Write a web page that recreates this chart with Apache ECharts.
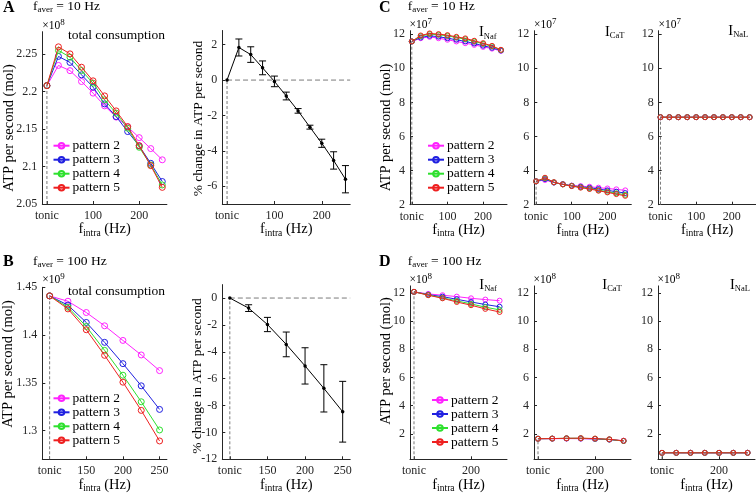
<!DOCTYPE html>
<html><head><meta charset="utf-8">
<script src="https://cdn.jsdelivr.net/npm/echarts@6/dist/echarts.min.js"></script>
<style>html,body{margin:0;padding:0;background:#fff}#c{width:756px;height:493px}</style>
</head><body><div id="c"></div>
<script>
// ---------------- DATA ----------------
const patternNames = ['pattern 2', 'pattern 3', 'pattern 4', 'pattern 5'];
// x positions: "tonic" is plotted at 0 (f_aver = 10 Hz) or 100 (f_aver = 100 Hz)
const xA = [0, 25, 50, 75, 100, 125, 150, 175, 200, 225, 250];
const xB = [100, 125, 150, 175, 200, 225, 250];
const tickXA = [0, 100, 200];
const tickXB = [100, 150, 200, 250];
const tickXC = [0, 100, 200];
const tickXD = [100, 200];

// A: total consumption, x1e8
const aP2 = [2.208, 2.235, 2.228, 2.2135, 2.198, 2.181, 2.166, 2.153, 2.1386, 2.124, 2.109];
const aP3 = [2.208, 2.247, 2.239, 2.2224, 2.206, 2.1836, 2.1667, 2.1467, 2.1275, 2.1043, 2.080];
const aP4 = [2.208, 2.255, 2.246, 2.2282, 2.2113, 2.189, 2.1712, 2.1512, 2.1257, 2.1021, 2.0754];
const aP5 = [2.208, 2.2598, 2.2504, 2.2326, 2.2144, 2.1943, 2.1743, 2.1533, 2.1279, 2.1012, 2.0722];
const aPct = [0, 1.84, 1.44, 0.69, -0.075, -0.9, -1.74, -2.66, -3.57, -4.54, -5.6];
const aErr = [0, 0.48, 0.44, 0.39, 0.3, 0.22, 0.13, 0.11, 0.23, 0.49, 0.77];
const tickYA1 = [2.05, 2.1, 2.15, 2.2, 2.25];
const tickYA2 = [-6, -4, -2, 0, 2];

// B: total consumption, x1e9
const bP2 = [1.441, 1.4354, 1.4236, 1.4097, 1.3944, 1.3792, 1.3628];
const bP3 = [1.441, 1.4313, 1.4132, 1.3924, 1.3701, 1.3469, 1.3222];
const bP4 = [1.441, 1.4292, 1.409, 1.384, 1.358, 1.3302, 1.3007];
const bP5 = [1.441, 1.4274, 1.4056, 1.3788, 1.3507, 1.3212, 1.2892];
const bPct = [0, -0.75, -1.97, -3.45, -5.05, -6.72, -8.46];
const bErr = [0, 0.25, 0.53, 0.92, 1.35, 1.76, 2.26];
const tickYB1 = [1.3, 1.35, 1.4, 1.45];
const tickYB2 = [-12, -10, -8, -6, -4, -2, 0];

// C: currents, x1e7
const cNafP2 = [11.57, 11.76, 11.84, 11.76, 11.67, 11.57, 11.47, 11.37, 11.25, 11.15, 11.02];
const cNafP3 = [11.57, 11.80, 11.90, 11.85, 11.76, 11.67, 11.57, 11.45, 11.32, 11.20, 11.04];
const cNafP4 = [11.57, 11.88, 12.00, 11.96, 11.90, 11.80, 11.70, 11.57, 11.43, 11.28, 11.06];
const cNafP5 = [11.57, 11.92, 12.04, 12.00, 11.94, 11.84, 11.75, 11.61, 11.47, 11.31, 11.08];
const cCaTP2 = [3.37, 3.45, 3.30, 3.20, 3.12, 3.09, 3.05, 3.00, 2.95, 2.90, 2.84];
const cCaTP3 = [3.37, 3.50, 3.30, 3.20, 3.11, 3.05, 2.99, 2.92, 2.84, 2.76, 2.68];
const cCaTP4 = [3.37, 3.55, 3.31, 3.19, 3.10, 3.02, 2.95, 2.85, 2.76, 2.67, 2.58];
const cCaTP5 = [3.37, 3.58, 3.32, 3.19, 3.09, 3.00, 2.92, 2.82, 2.72, 2.62, 2.52];
const cNaL = [7.13, 7.13, 7.13, 7.13, 7.13, 7.13, 7.13, 7.13, 7.13, 7.13, 7.13];

// D: currents, x1e8
const dNafP2 = [12.08, 11.93, 11.84, 11.74, 11.62, 11.53, 11.45];
const dNafP3 = [12.08, 11.88, 11.74, 11.55, 11.36, 11.18, 11.02];
const dNafP4 = [12.08, 11.86, 11.65, 11.44, 11.22, 10.99, 10.80];
const dNafP5 = [12.08, 11.84, 11.62, 11.36, 11.13, 10.87, 10.65];
const dCaTP2 = [1.66, 1.66, 1.67, 1.66, 1.64, 1.60, 1.52];
const dCaTP3 = [1.66, 1.67, 1.68, 1.68, 1.65, 1.60, 1.50];
const dCaTP4 = [1.66, 1.67, 1.69, 1.69, 1.66, 1.61, 1.50];
const dCaTP5 = [1.66, 1.67, 1.69, 1.70, 1.67, 1.62, 1.51];
const dNaL = [0.66, 0.66, 0.66, 0.66, 0.66, 0.66, 0.66];
const tickYCD = [2, 4, 6, 8, 10, 12];

// ---------------- STYLE / HELPERS ----------------
const FONT = 'Liberation Serif';
const AX = '#262626';
const COL = ['#ff22ff', '#2020e0', '#2ee02e', '#ee2020'];

const grids = [], xAxes = [], yAxes = [], series = [], graphics = [], legends = [];

function addGrid(left, top, width, height) {
  grids.push({ left, top, width, height, containLabel: false, outerBoundsMode: 'none' });
  return grids.length - 1;
}
const numFmt = v => String(+(+v).toFixed(2));
function addX(gi, min, max, ticks, tonic) {
  xAxes.push({
    type: 'value', gridIndex: gi, min, max,
    axisLine: { show: true, onZero: false, lineStyle: { color: AX, width: 1 } },
    axisTick: { show: true, inside: true, length: 3, customValues: ticks, lineStyle: { color: AX } },
    axisLabel: { customValues: ticks, margin: 6, color: AX, fontFamily: FONT, fontSize: 12,
      formatter: v => (v === tonic ? 'tonic' : numFmt(v)) },
    splitLine: { show: false },
    name: '{n|f}{s|intra}{n| (Hz)}', nameLocation: 'middle', nameGap: 18, nameMoveOverlap: false,
    nameTextStyle: { color: '#000', fontFamily: FONT, fontSize: 14.5, verticalAlign: 'top',
      rich: { n: { fontFamily: FONT, fontSize: 14.5, verticalAlign: 'top', color: '#000' },
              s: { fontFamily: FONT, fontSize: 9.5, verticalAlign: 'top', color: '#000', padding: [6, 0, 0, 0] } } }
  });
}
function addY(gi, min, max, ticks) {
  yAxes.push({
    type: 'value', gridIndex: gi, min, max,
    axisLine: { show: true, onZero: false, lineStyle: { color: AX, width: 1 } },
    axisTick: { show: true, inside: true, length: 3, customValues: ticks, lineStyle: { color: AX } },
    axisLabel: { customValues: ticks, margin: 5, color: AX, fontFamily: FONT, fontSize: 12, formatter: numFmt },
    splitLine: { show: false }
  });
}
function dashed(gi, pts, dash) {
  series.push({ type: 'line', xAxisIndex: gi, yAxisIndex: gi, data: pts, symbol: 'none', silent: true,
    lineStyle: { color: '#7a7a7a', width: 1, type: dash }, z: 1, animation: false });
}
function patterns(gi, xs, arrs, size) {
  arrs.forEach((arr, k) => {
    series.push({ type: 'line', name: patternNames[k], xAxisIndex: gi, yAxisIndex: gi,
      data: xs.map((x, i) => [x, arr[i]]), symbol: 'circle', symbolSize: size, showSymbol: true,
      lineStyle: { color: COL[k], width: 1 },
      itemStyle: { color: 'rgba(255,255,255,0)', borderColor: COL[k], borderWidth: 1 },
      emphasis: { disabled: true }, z: 2 + k, animation: false });
  });
}
function pctSeries(gi, xs, ys, es) {
  series.push({ type: 'custom', xAxisIndex: gi, yAxisIndex: gi, silent: true, z: 3, animation: false,
    data: xs.map((x, i) => [x, ys[i], es[i]]), encode: { x: 0, y: 1 },
    renderItem: (p, api) => {
      const x = api.value(0), y = api.value(1), e = api.value(2);
      if (!e) return { type: 'group', children: [] };
      const t = api.coord([x, y + e]), b = api.coord([x, y - e]), w = 3.5;
      const st = { stroke: '#000', lineWidth: 1 };
      return { type: 'group', children: [
        { type: 'line', shape: { x1: t[0], y1: t[1], x2: b[0], y2: b[1] }, style: st },
        { type: 'line', shape: { x1: t[0] - w, y1: t[1], x2: t[0] + w, y2: t[1] }, style: st },
        { type: 'line', shape: { x1: b[0] - w, y1: b[1], x2: b[0] + w, y2: b[1] }, style: st }] };
    } });
  series.push({ type: 'line', xAxisIndex: gi, yAxisIndex: gi, data: xs.map((x, i) => [x, ys[i]]),
    symbol: 'circle', symbolSize: 3.5, lineStyle: { color: '#000', width: 1 }, itemStyle: { color: '#000' },
    silent: true, z: 4, animation: false });
}
function legendAt(left, top) {
  legends.push({ data: patternNames, orient: 'vertical', left, top, padding: 0, itemGap: 0,
    itemWidth: 16, itemHeight: 7, selectedMode: false,
    textStyle: { fontFamily: FONT, fontSize: 13.5, lineHeight: 14, color: '#000', padding: [0, 0, 0, -2] } });
}
// text with subscript / superscript parts: parts = [[text, 'n'|'s'], ...]
// shift > 0: subscript lowered by shift px; shift < 0: superscript raised
function txt(x, yc, parts, main, sub, shift, bold) {
  const base = (main - sub) / 2;
  const nPad = shift < 0 ? Math.max(0, -shift - base) : 0;
  const sPad = shift > 0 ? base + shift : Math.max(0, base + shift + nPad);
  graphics.push({ type: 'text', x, y: yc - main / 2 - nPad, silent: true,
    style: { text: parts.map(p => '{' + p[1] + '|' + p[0] + '}').join(''), align: 'left', verticalAlign: 'top',
      rich: { n: { fontFamily: FONT, fontSize: main, verticalAlign: 'top', fill: '#000', padding: [nPad, 0, 0, 0], fontWeight: bold ? 'bold' : 'normal' },
              s: { fontFamily: FONT, fontSize: sub, verticalAlign: 'top', fill: '#000', padding: [sPad, 0, 0, 0] } } } });
}
// rotated y-axis label, centred at (xc, yc)
function ylabel(xc, yc, text, size) {
  graphics.push({ type: 'text', x: xc, y: yc, rotation: Math.PI / 2, silent: true,
    style: { text, fontFamily: FONT, fontSize: size, fill: '#000', align: 'center', verticalAlign: 'middle' } });
}
const ylab = 'ATP per second (mol)';
const ylabPct = '% change in ATP per second';

// ---------------- PANEL A ----------------
let g = addGrid(42.3, 31.7, 124.6, 172.3);
addX(g, -10, 260, tickXA, 0); addY(g, 2.05, 2.28, tickYA1);
dashed(g, [[xA[0], 2.05], [xA[0], aP2[0]]], [3, 2]);
patterns(g, xA, [aP2, aP3, aP4, aP5], 6);
legendAt(52.5, 138.7);

g = addGrid(222.3, 30.5, 127.9, 173.5);
addX(g, -10, 260, tickXA, 0); addY(g, -7, 2.8, tickYA2);
dashed(g, [[xA[0], -7], [xA[0], aPct[0]]], [3, 2]);
dashed(g, [[xA[0], 0], [260, 0]], [5, 3]);
pctSeries(g, xA, aPct, aErr);

// ---------------- PANEL B ----------------
g = addGrid(42.3, 287.3, 124.6, 172);
addX(g, 90, 260, tickXB, 100); addY(g, 1.27, 1.45, tickYB1);
dashed(g, [[xB[0], 1.27], [xB[0], bP2[0]]], [3, 2]);
patterns(g, xB, [bP2, bP3, bP4, bP5], 6);
legendAt(52.5, 391.3);

g = addGrid(222.3, 284.6, 127.9, 174.7);
addX(g, 90, 260, tickXB, 100); addY(g, -12, 1, tickYB2);
dashed(g, [[xB[0], -12], [xB[0], bPct[0]]], [3, 2]);
dashed(g, [[xB[0], 0], [260, 0]], [5, 3]);
pctSeries(g, xB, bPct, bErr);

// ---------------- PANEL C ----------------
const cLefts = [410, 534.3, 658.7];
const cData = [[cNafP2, cNafP3, cNafP4, cNafP5], [cCaTP2, cCaTP3, cCaTP4, cCaTP5], [cNaL, cNaL, cNaL, cNaL]];
cLefts.forEach((l, j) => {
  const gi = addGrid(l, 30.7, 97, 174);
  addX(gi, -5, 267, tickXC, 0); addY(gi, 2, 12.2, tickYCD);
  dashed(gi, [[xA[0], 2], [xA[0], cData[j][0][0]]], [3, 2]);
  patterns(gi, xA, cData[j], 5);
});
legendAt(427, 138.7);

// ---------------- PANEL D ----------------
const dLefts = [410, 534, 658];
const dData = [[dNafP2, dNafP3, dNafP4, dNafP5], [dCaTP2, dCaTP3, dCaTP4, dCaTP5], [dNaL, dNaL, dNaL, dNaL]];
dLefts.forEach((l, j) => {
  const gi = addGrid(l, 285.9, 97, 173.4);
  addX(gi, 93, 263, tickXD, 100); addY(gi, 0.2, 12.5, tickYCD);
  dashed(gi, [[xB[0], 0.2], [xB[0], dData[j][0][0]]], [3, 2]);
  patterns(gi, xB, dData[j], 5);
});
legendAt(431, 393);

// ---------------- TEXT ----------------
ylabel(9, 128, ylab, 14.5);
ylabel(198, 118.5, ylabPct, 13.5);
ylabel(8.5, 364, ylab, 14.5);
ylabel(197, 376, ylabPct, 13.5);
ylabel(386, 127.5, ylab, 14.5);
ylabel(386, 361, ylab, 14.5);

txt(3, 7.5, [['A', 'n']], 16, 10, 0, true);
txt(33, 6.5, [['f', 'n'], ['aver', 's'], [' = 10 Hz', 'n']], 13.5, 9, 3.5);
txt(3, 261.5, [['B', 'n']], 16, 10, 0, true);
txt(33, 261, [['f', 'n'], ['aver', 's'], [' = 100 Hz', 'n']], 13.5, 9, 3.5);
txt(379, 7.5, [['C', 'n']], 16, 10, 0, true);
txt(407.7, 6.5, [['f', 'n'], ['aver', 's'], [' = 10 Hz', 'n']], 13.5, 9, 3.5);
txt(379, 261.5, [['D', 'n']], 16, 10, 0, true);
txt(407.7, 261, [['f', 'n'], ['aver', 's'], [' = 100 Hz', 'n']], 13.5, 9, 3.5);

txt(68, 35, [['total consumption', 'n']], 13.5, 9, 0);
txt(68, 291.7, [['total consumption', 'n']], 13.5, 9, 0);

txt(42.3, 25.5, [['\u00d710', 'n'], ['8', 's']], 11.5, 9, -3);
txt(42.3, 280, [['\u00d710', 'n'], ['9', 's']], 11.5, 9, -3);
[409.5, 534, 658.5].forEach(x => txt(x, 25, [['\u00d710', 'n'], ['7', 's']], 11.5, 9, -3));
[409.5, 533.5, 657.5].forEach(x => txt(x, 280, [['\u00d710', 'n'], ['8', 's']], 11.5, 9, -3));

txt(479, 32.3, [['I', 'n'], ['Naf', 's']], 14.5, 8.5, 4);
txt(605, 31.7, [['I', 'n'], ['CaT', 's']], 14.5, 8.5, 4);
txt(728.3, 30.5, [['I', 'n'], ['NaL', 's']], 14.5, 8.5, 4);
txt(479.3, 285, [['I', 'n'], ['Naf', 's']], 14.5, 8.5, 4);
txt(602.3, 285, [['I', 'n'], ['CaT', 's']], 14.5, 8.5, 4);
txt(730, 285, [['I', 'n'], ['NaL', 's']], 14.5, 8.5, 4);

const chart = echarts.init(document.getElementById('c'), null, { renderer: 'canvas' });
chart.setOption({
  animation: false,
  backgroundColor: '#fff',
  grid: grids, xAxis: xAxes, yAxis: yAxes, series, legend: legends,
  graphic: { elements: graphics }
});
</script></body></html>
